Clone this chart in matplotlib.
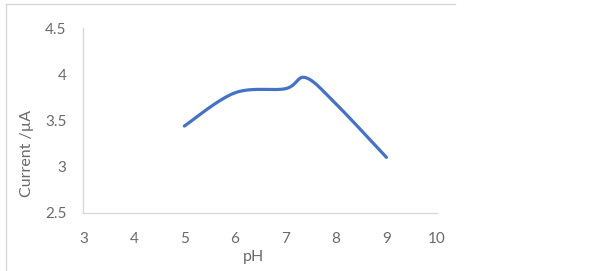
import numpy as np
import matplotlib
matplotlib.use("Agg")
import matplotlib.pyplot as plt
from matplotlib.lines import Line2D

# data
ph = [5, 6, 7, 7.4, 8, 9]
current = [3.44, 3.80, 3.845, 3.965, 3.68, 3.10]
xticks = [3, 4, 5, 6, 7, 8, 9, 10]
yticks = [2.5, 3, 3.5, 4, 4.5]


def excel_smooth(xs, ys, n=40):
    # Bezier smoothing like Excel's "smoothed line"
    p = np.column_stack([xs, ys]).astype(float)
    p = np.vstack([p[0], p, p[-1]])
    out = []
    t = np.linspace(0, 1, n)[:, None]
    for i in range(1, len(p) - 2):
        p0, p1 = p[i], p[i + 1]
        c1 = p0 + (p[i + 1] - p[i - 1]) / 6
        c2 = p1 - (p[i + 2] - p[i]) / 6
        seg = ((1 - t) ** 3) * p0 + 3 * ((1 - t) ** 2) * t * c1 + 3 * (1 - t) * t ** 2 * c2 + t ** 3 * p1
        out.append(seg)
    out = np.vstack(out)
    return out[:, 0], out[:, 1]


plt.rcParams['font.family'] = ['Lato', 'DejaVu Sans']
grey = '#6a6a6a'

fig = plt.figure(figsize=(6.14, 2.71), dpi=100)
ax = fig.add_axes([0.1357, 0.2151, 0.576, 0.6805])

sx, sy = excel_smooth(ph, current)
ax.plot(sx, sy, color='#4472C4', linewidth=2.3, solid_capstyle='round')

ax.set_xlim(3, 10)
ax.set_ylim(2.5, 4.5)
ax.set_xticks(xticks)
ax.set_yticks(yticks)
ax.set_xticklabels([str(v) for v in xticks])
ax.set_yticklabels(['2.5', '3', '3.5', '4', '4.5'])
ax.tick_params(length=0, labelsize=11, colors=grey)
ax.tick_params(axis='y', pad=12)
ax.tick_params(axis='x', pad=14)
for s in ['top', 'right']:
    ax.spines[s].set_visible(False)
for s in ['left', 'bottom']:
    ax.spines[s].set_color('#d9d9d9')
    ax.spines[s].set_linewidth(1)

fig.text(27 / 614, 1 - 153 / 271, 'Current /µA', rotation=90, ha='center', va='center',
         fontsize=11.5, color=grey)
fig.text(253 / 614, 1 - 257 / 271, 'pH', ha='center', va='center', fontsize=11.5, color=grey)

# chart border (partly visible in the reference)
fig.add_artist(Line2D([6 / 614, 455 / 614], [1 - 4 / 271, 1 - 4 / 271], color='#d9d9d9', lw=1))
fig.add_artist(Line2D([6 / 614, 6 / 614], [0, 1 - 4 / 271], color='#d9d9d9', lw=1))

fig.savefig('out.png', dpi=100)
